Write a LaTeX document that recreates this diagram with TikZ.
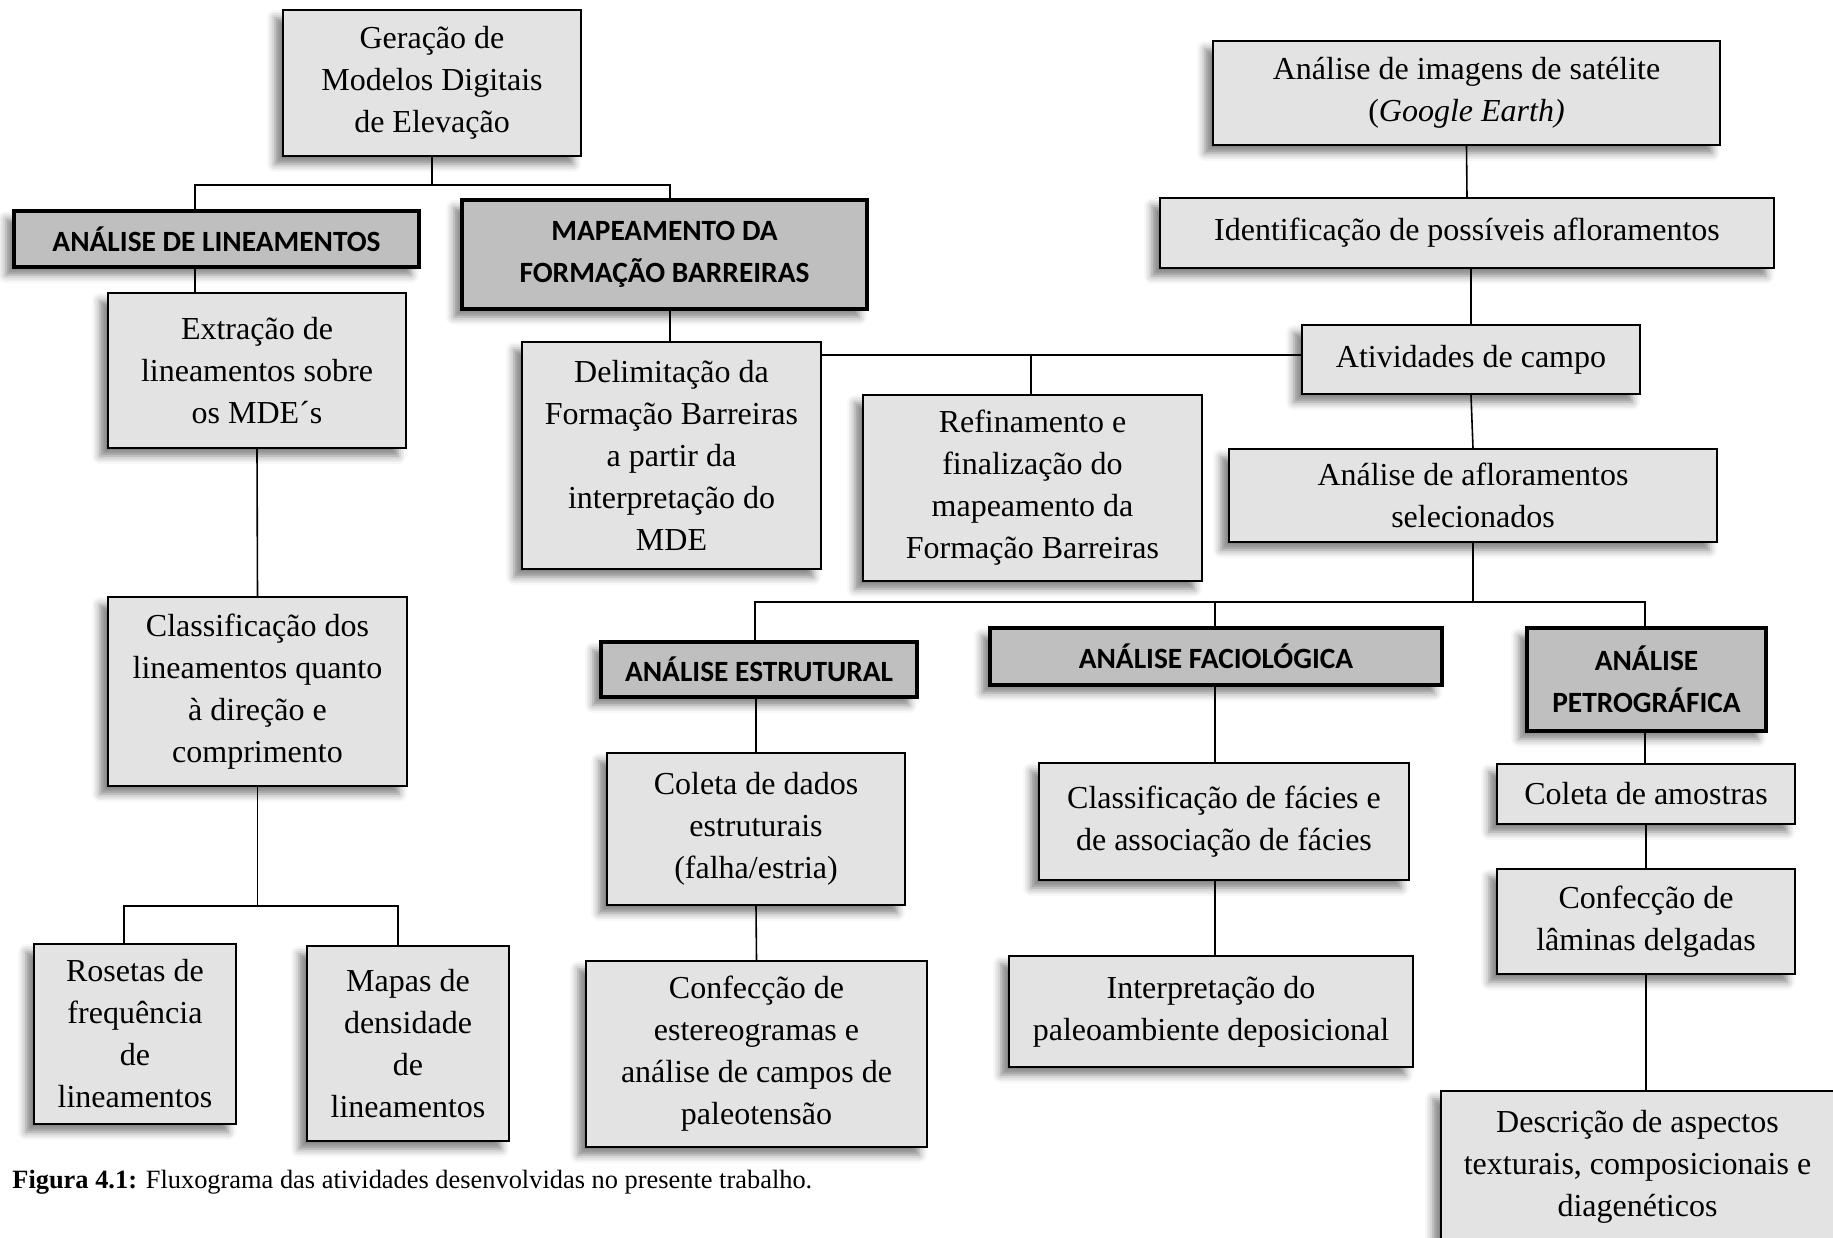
\documentclass[tikz,border=0pt]{standalone}
\usepackage{fontspec}
\setmainfont{Liberation Serif}
\newfontfamily\hdrfont{Carlito}
\usetikzlibrary{shadows.blur}
\definecolor{boxgray}{HTML}{E3E3E3}
\definecolor{hdrgray}{HTML}{BFBFBF}
\begin{document}
\begin{tikzpicture}[x=0.5pt,y=-0.5pt,
  box/.style={draw=black, line width=1pt, fill=boxgray, align=center, inner sep=2pt,
    font=\fontsize{16pt}{21pt}\selectfont,
    blur shadow={shadow xshift=-4pt, shadow yshift=-4pt, shadow blur radius=4pt, shadow opacity=50}},
  hdr/.style={box, fill=hdrgray, line width=2pt, font=\hdrfont\bfseries\fontsize{14.7pt}{21pt}\selectfont},
  sz/.style 2 args={minimum width=#1, minimum height=#2},
  link/.style={line width=0.8pt}]
\useasboundingbox (0,0) rectangle (1833,1238);

% left column
\node[box, sz={149pt}{73pt}] (ger) at (432,83) {Geração de\\Modelos Digitais\\de Elevação};
\node[hdr, sz={202.5pt}{28pt}] (lin) at (216.5,239) {ANÁLISE DE LINEAMENTOS};
\node[hdr, sz={202.5pt}{54.5pt}] (map) at (664.5,254.5) {MAPEAMENTO DA\\FORMAÇÃO BARREIRAS};
\node[box, sz={149pt}{77.5pt}] (ext) at (257,370.5) {Extração de\\lineamentos sobre\\os MDE´s};
\node[box, sz={149.5pt}{94.5pt}] (cla) at (257.5,691.5) {Classificação dos\\lineamentos quanto\\à direção e\\comprimento};
\node[box, sz={101pt}{90pt}] (ros) at (135,1034) {Rosetas de\\frequência\\de\\lineamentos};
\node[box, sz={101pt}{97.5pt}] (mad) at (408,1043.5) {Mapas de\\densidade\\de\\lineamentos};
\node[box, sz={149.5pt}{113.5pt}] (del) at (671.5,455.5) {Delimitação da\\Formação Barreiras\\a partir da\\interpretação do\\MDE};
\node[box, sz={169.5pt}{93pt}] (ref) at (1032.5,488) {Refinamento e\\finalização do\\mapeamento da\\Formação Barreiras};

% right column
\node[box, sz={253.5pt}{52pt}] (img) at (1466.5,93) {Análise de imagens de satélite\\(\textit{Google Earth)}};
\node[box, sz={307pt}{35pt}] (idf) at (1467,233) {Identificação de possíveis afloramentos};
\node[box, sz={169pt}{34.5pt}] (atv) at (1471,359.5) {Atividades de campo};
\node[box, sz={244pt}{46.5pt}] (afl) at (1473,495.5) {Análise de afloramentos\\selecionados};

\node[hdr, sz={158pt}{27.5pt}] (est) at (759,669.5) {ANÁLISE ESTRUTURAL};
\node[hdr, sz={226pt}{28.5pt}] (fac) at (1216,656.5) {ANÁLISE FACIOLÓGICA};
\node[hdr, sz={119.5pt}{51.5pt}] (pet) at (1646.5,679.5) {ANÁLISE\\PETROGRÁFICA};

\node[box, sz={149pt}{76pt}] (col) at (756,829) {Coleta de dados\\estruturais\\(falha/estria)};
\node[box, sz={170.5pt}{93pt}] (cst) at (756.5,1054) {Confecção de\\estereogramas e\\análise de campos de\\paleotensão};
\node[box, sz={185pt}{58.5pt}] (cfa) at (1224,821.5) {Classificação de fácies e\\de associação de fácies};
\node[box, sz={202pt}{55.5pt}] (int) at (1211,1011.5) {Interpretação do\\paleoambiente deposicional};
\node[box, sz={149pt}{30pt}] (cam) at (1646,794) {Coleta de amostras};
\node[box, sz={149pt}{52.5pt}] (lam) at (1646,921.5) {Confecção de\\lâminas delgadas};
\node[box, sz={196.5pt}{75.5pt}] (des) at (1637.5,1166.5) {Descrição de aspectos\\texturais, composicionais e\\diagenéticos};

\node[anchor=base west, inner sep=0pt, font=\fontsize{13.2pt}{15pt}\selectfont] (cap) at (12,1188)
  {\textbf{Figura 4.1:} Fluxograma das atividades desenvolvidas no presente trabalho.};

% junction coordinates
\coordinate (j1l) at (195,185);
\coordinate (j1r) at (670,185);
\coordinate (j2l) at (124,906);
\coordinate (j2r) at (398,906);
\coordinate (j3) at (1031,355);
\coordinate (j4l) at (755,602);
\coordinate (j4m) at (1215,602);
\coordinate (j4r) at (1645,602);

% connectors
\draw[link] (ger.south) -- (ger.south |- j1l);
\draw[link] (lin.north -| j1l) -- (j1l) -- (j1r) -- (map.north -| j1r);
\draw[link] (lin.south -| j1l) -- (ext.north -| j1l);
\draw[link] (ext.south) -- (cla.north);
\draw[link] (cla.south) -- (cla.south |- j2l);
\draw[link] (ros.north -| j2l) -- (j2l) -- (j2r) -- (mad.north -| j2r);
\draw[link] (map.south -| j1r) -- (del.north -| j1r);
\draw[link] (del.east |- j3) -- (atv.west |- j3);
\draw[link] (j3) -- (ref.north -| j3);
\draw[link] (img.south) -- (idf.north);
\draw[link] (atv.north) -- (atv.north |- idf.south);
\draw[link] (atv.south) -- (afl.north);
\draw[link] (afl.south) -- (afl.south |- j4l);
\draw[link] (est.north -| j4l) -- (j4l) -- (j4r) -- (pet.north -| j4r);
\draw[link] (j4m) -- (fac.north -| j4m);
\draw[link] (col.north) -- (col.north |- est.south);
\draw[link] (col.south) -- (cst.north);
\draw[link] (fac.south -| j4m) -- (cfa.north -| j4m);
\draw[link] (cfa.south -| j4m) -- (int.north -| j4m);
\draw[link] (pet.south -| j4r) -- (cam.north -| j4r);
\draw[link] (cam.south) -- (lam.north);
\draw[link] (lam.south) -- (des.north -| lam.south);
\end{tikzpicture}
\end{document}
